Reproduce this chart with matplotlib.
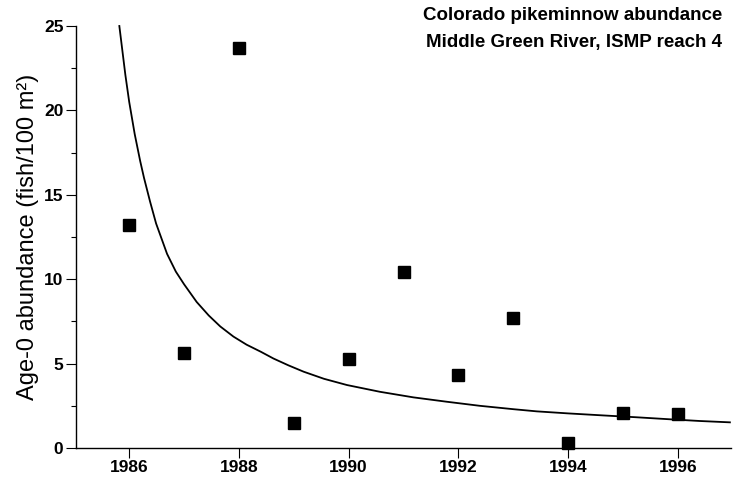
import matplotlib
matplotlib.use("Agg")
import matplotlib.pyplot as plt
from matplotlib.ticker import MultipleLocator

plt.rcParams['font.family'] = ['Liberation Sans', 'DejaVu Sans']

years = [1986, 1987, 1988, 1989, 1990, 1991, 1992, 1993, 1994, 1995, 1996]
abundance = [13.2, 5.6, 23.7, 1.5, 5.3, 10.4, 4.3, 7.7, 0.3, 2.1, 2.0]

curve_x = [1985.82, 1985.93, 1986.0, 1986.1, 1986.2, 1986.27, 1986.38, 1986.49,
           1986.69, 1986.85, 1987.0, 1987.23, 1987.45, 1987.66, 1987.9, 1988.14,
           1988.4, 1988.63, 1988.9, 1989.18, 1989.55, 1989.97, 1990.57, 1991.18,
           1991.79, 1992.39, 1993.0, 1993.43, 1994.0, 1994.64, 1995.25, 1995.86,
           1996.4, 1996.95]
curve_y = [25.0, 22.1, 20.5, 18.6, 17.0, 16.0, 14.6, 13.3,
           11.5, 10.45, 9.7, 8.65, 7.85, 7.2, 6.6, 6.12,
           5.7, 5.3, 4.9, 4.52, 4.1, 3.73, 3.33, 3.0,
           2.74, 2.5, 2.3, 2.17, 2.05, 1.93, 1.82, 1.70,
           1.6, 1.52]

title_lines = ["Colorado pikeminnow abundance", "Middle Green River, ISMP reach 4"]
ylabel = "Age-0 abundance (fish/100 m²)"
xticks = [1986, 1988, 1990, 1992, 1994, 1996]
yticks = [0, 5, 10, 15, 20, 25]

fig = plt.figure(figsize=(7.34, 4.91), dpi=100)
ax = fig.add_axes([76/734, 1-448/491, (731-76)/734, (448-26)/491])

ax.plot(curve_x, curve_y, color='black', lw=1.3, clip_on=False,
        solid_joinstyle='round')
ax.plot(years, abundance, linestyle='none', marker='s', markersize=8,
        color='black', clip_on=False)

ax.set_xlim(1985.03, 1996.97)
ax.set_ylim(0, 25)
ax.set_xticks(xticks)
ax.set_yticks(yticks)
ax.yaxis.set_minor_locator(MultipleLocator(2.5))
ax.tick_params(axis='both', which='major', direction='out', length=7.5, width=0.8,
               labelsize=12.5, pad=1.5)
ax.tick_params(axis='y', which='minor', direction='out', length=3.5, width=0.8)
for lab in ax.get_xticklabels() + ax.get_yticklabels():
    lab.set_fontweight('bold')

for s in ['top', 'right']:
    ax.spines[s].set_visible(False)
for s in ['left', 'bottom']:
    ax.spines[s].set_linewidth(1.0)

ax.set_ylabel(ylabel, fontsize=17, va='center')
ax.yaxis.set_label_coords(-0.073, 0.5)

fig.text(722/734, 1-15/491, title_lines[0], ha='right', va='center',
         fontsize=13.5, fontweight='bold')
fig.text(722/734, 1-42/491, title_lines[1], ha='right', va='center',
         fontsize=13.5, fontweight='bold')

fig.savefig("out.png", dpi=100)
